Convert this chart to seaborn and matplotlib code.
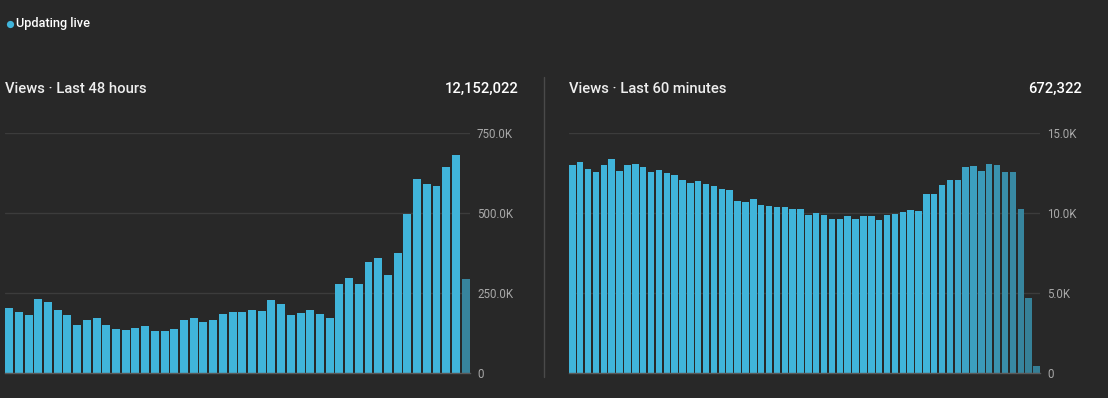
import numpy as np
import pandas as pd
import seaborn as sns
import matplotlib
matplotlib.use("Agg")
import matplotlib.pyplot as plt
from matplotlib.colors import to_rgb

# ---- data ----
hours_views = [204, 192, 182, 232, 223, 198, 182, 151, 167, 173, 151, 139, 135, 142, 148, 132,
               132, 139, 167, 173, 160, 167, 185, 192, 190, 196, 193, 228, 215, 181, 187, 196,
               184, 171, 278, 297, 278, 348, 360, 307, 376, 496, 606, 590, 584, 644, 682, 294]
hours_views = [v * 1000 for v in hours_views]
minutes_views = [13021, 13208, 12771, 12583, 13021, 13396, 12646, 13021, 13083, 12896, 12583, 12708,
                 12521, 12396, 12083, 11896, 12021, 11833, 11708, 11521, 11458, 10771, 10708, 10896,
                 10521, 10458, 10396, 10396, 10271, 10271, 9896, 10021, 9896, 9646, 9646, 9833,
                 9646, 9833, 9833, 9583, 9896, 9958, 10083, 10208, 10146, 11208, 11208, 11771,
                 12083, 12083, 12896, 12958, 12646, 13083, 13021, 12583, 12583, 10271, 4708, 458]
left_title = "Views · Last 48 hours"
left_total = "12,152,022"
right_title = "Views · Last 60 minutes"
right_total = "672,322"
left_ticks = [0, 250000, 500000, 750000]
left_ticklabels = ["0", "250.0K", "500.0K", "750.0K"]
right_ticks = [0, 5000, 10000, 15000]
right_ticklabels = ["0", "5.0K", "10.0K", "15.0K"]

BG = "#282828"
BRIGHT = "#40b4da"
DARK = "#367f96"

sns.set_theme(style="dark")
plt.rcParams['font.family'] = ['Roboto', 'DejaVu Sans']

fig = plt.figure(figsize=(11.08, 3.98), dpi=100)
fig.patch.set_facecolor(BG)

W, H = 1108, 398

def make_ax(x0, x1, y_top, y_bot):
    return fig.add_axes([x0 / W, 1 - y_bot / H, (x1 - x0) / W, (y_bot - y_top) / H])

def blend(c1, c2, t):
    a, b = np.array(to_rgb(c1)), np.array(to_rgb(c2))
    return tuple(a + (b - a) * t)

def draw(ax, values, colors, ticks, ticklabels, ymax):
    df = pd.DataFrame({"i": list(range(len(values))), "v": values})
    sns.barplot(data=df, x="i", y="v", hue="i", palette=colors, legend=False,
                width=0.82, ax=ax, saturation=1, linewidth=0)
    ax.set_facecolor(BG)
    ax.set_xlim(-0.43, len(values) - 0.55)
    ax.set_ylim(0, ymax)
    ax.set_xticks([])
    ax.set_xlabel("")
    ax.set_ylabel("")
    ax.yaxis.tick_right()
    ax.set_yticks(ticks)
    ax.set_yticklabels(ticklabels)
    ax.tick_params(axis="y", length=0, pad=5, labelsize=8.3, labelcolor="#a8a8a8")
    ax.grid(axis="y", color="#3c3c3c", linewidth=1)
    ax.grid(axis="x", visible=False)
    ax.set_axisbelow(True)
    for s in ["top", "left", "right"]:
        ax.spines[s].set_visible(False)
    ax.spines["bottom"].set_visible(True)
    ax.spines["bottom"].set_color("#5a5a5a")
    ax.spines["bottom"].set_linewidth(1)

# left chart
left_colors = [BRIGHT] * (len(hours_views) - 1) + [blend(BRIGHT, DARK, 0.9)]
axL = make_ax(5, 470, 133, 373)
draw(axL, hours_views, left_colors, left_ticks, left_ticklabels, 750000)

# right chart (fading last bars)
n = len(minutes_views)
right_colors = []
for i in range(n):
    if i < 46:
        right_colors.append(BRIGHT)
    else:
        t = (i - 46) / (n - 1 - 46)
        right_colors.append(blend(BRIGHT, DARK, min(1.0, t * 1.05)))
axR = make_ax(569, 1040, 133, 373)
draw(axR, minutes_views, right_colors, right_ticks, right_ticklabels, 15000)

# header texts
fig.add_artist(plt.Line2D([9.5 / W], [1 - 24 / H], marker="o", markersize=5.2, color=BRIGHT,
                          markeredgewidth=0, transform=fig.transFigure))
fig.text(16 / W, 1 - 24 / H, "Updating live", color="#ffffff", fontsize=9.2, ha="left", va="center",
         fontweight="medium")

fig.text(5 / W, 1 - 89 / H, left_title, color="#eeeeee", fontsize=10.6, ha="left", va="center",
         fontweight="medium")
fig.text(519 / W, 1 - 89 / H, left_total, color="#ffffff", fontsize=10.6, ha="right", va="center",
         fontweight="medium")
fig.text(569 / W, 1 - 89 / H, right_title, color="#eeeeee", fontsize=10.6, ha="left", va="center",
         fontweight="medium")
fig.text(1082 / W, 1 - 89 / H, right_total, color="#ffffff", fontsize=10.6, ha="right", va="center",
         fontweight="medium")

# divider
fig.add_artist(plt.Line2D([544 / W, 544 / W], [1 - 77 / H, 1 - 377 / H], color="#4a4a4a",
                          linewidth=1, transform=fig.transFigure))

fig.savefig("out.png", dpi=100, facecolor=BG)
